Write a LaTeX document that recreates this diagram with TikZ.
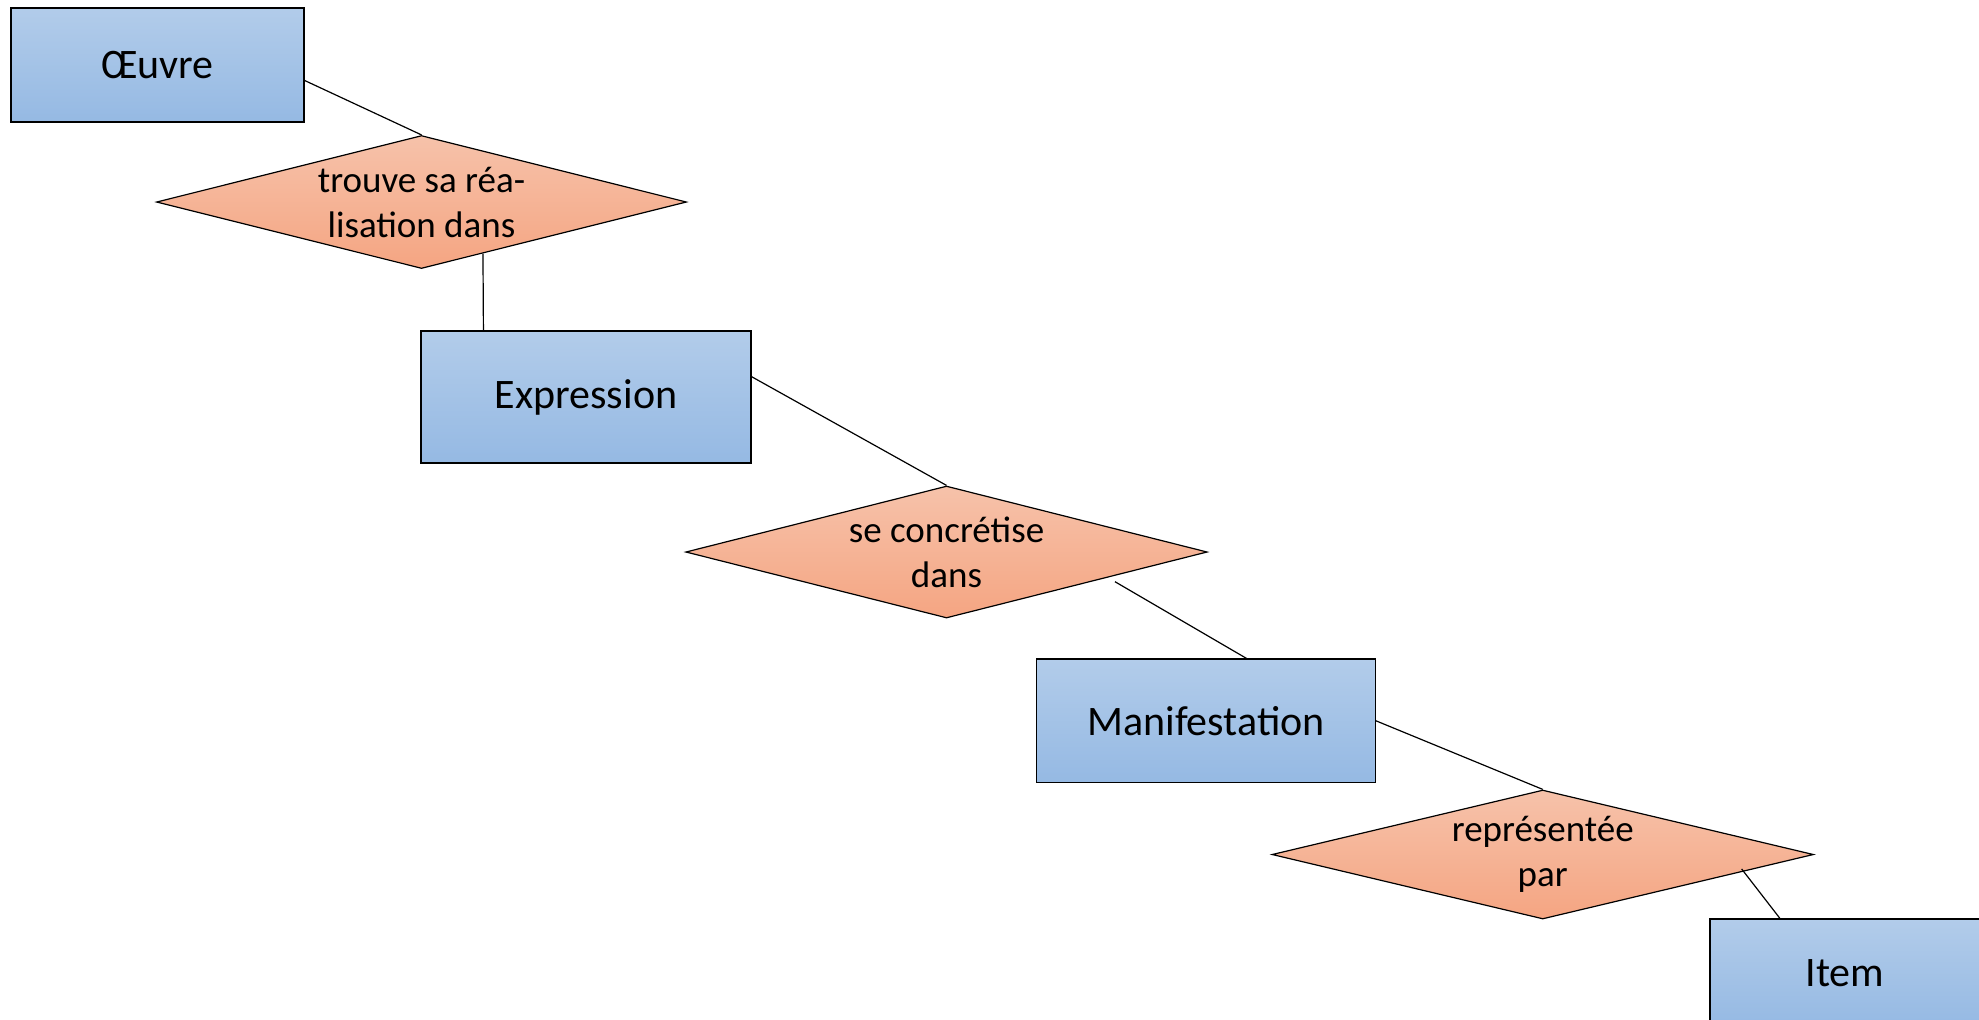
\documentclass[tikz,border=0pt]{standalone}
\usepackage{fontspec}
\setmainfont{Carlito}
\usetikzlibrary{shapes.geometric}
\definecolor{boxtop}{RGB}{178,204,234}
\definecolor{boxbot}{RGB}{149,185,227}
\definecolor{reltop}{RGB}{246,194,170}
\definecolor{relbot}{RGB}{245,165,130}
\begin{document}
\begin{tikzpicture}[x=0.5pt,y=-0.5pt,
  entity/.style={draw,line width=0.6pt,top color=boxtop,bottom color=boxbot,
    inner sep=0pt,font=\fontsize{21}{25}\selectfont},
  relation/.style={diamond,aspect=4,draw,line width=0.6pt,top color=reltop,bottom color=relbot,
    inner sep=0pt,align=center,font=\fontsize{18.5}{22.5}\selectfont}]
\useasboundingbox (0,0) rectangle (1979,1019);
\node[entity,minimum width=146.5pt,minimum height=57pt]  (oeuvre) at (157.5,65) {Œuvre};
\node[relation,minimum width=265pt,minimum height=66.5pt] (trouve) at (421.5,202) {trouve sa réa-\\lisation dans};
\node[entity,minimum width=165pt,minimum height=66pt]  (expression) at (586,397) {Expression};
\node[relation,minimum width=260.75pt,minimum height=66pt] (concretise) at (946.5,552) {se concrétise\\dans};
\node[entity,minimum width=169.25pt,minimum height=61.75pt] (manif) at (1206,720.75) {Manifestation};
\node[relation,minimum width=270.75pt,minimum height=64.5pt] (represente) at (1542.75,854.5) {représentée\\par};
\node[entity,minimum width=135pt,minimum height=54pt] (item) at (1845,973) {Item};
%
\draw[line width=0.6pt] (oeuvre.-6.6)      -- (trouve.north);
\draw[line width=0.6pt] (trouve.-40.8)     -- (expression.147.3);
\draw[line width=0.6pt] (expression.7.6)   -- (concretise.north);
\draw[line width=0.6pt] ([shift={(0,6)}]concretise.-8.7) -- (manif.57.4);
\draw[line width=0.6pt] (manif.east)       -- (represente.north);
\draw[line width=0.6pt] ([shift={(0,-3)}]represente.-5.9) -- (item.140.3);
\end{tikzpicture}
\end{document}
